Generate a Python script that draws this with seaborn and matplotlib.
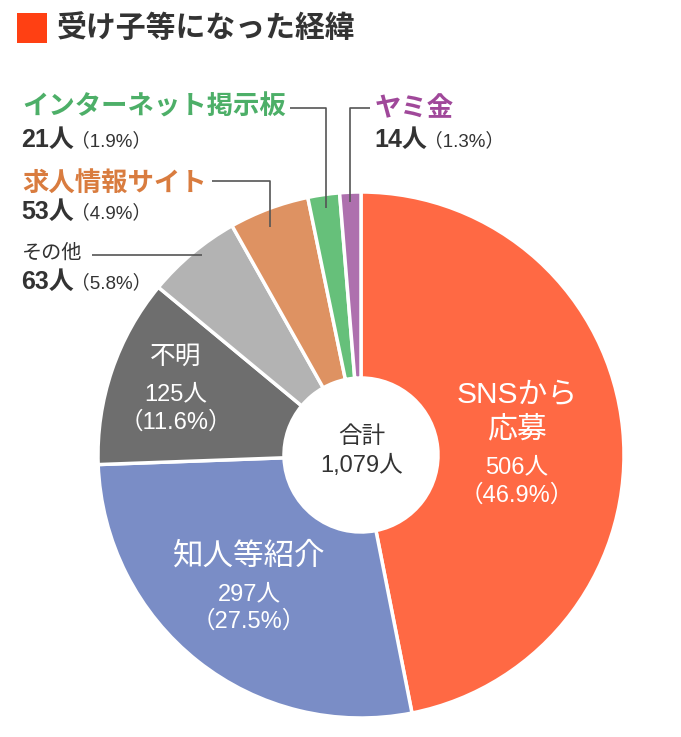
import matplotlib.pyplot as plt
import seaborn as sns
from matplotlib.patches import Rectangle

sns.set_theme(style="white")
plt.rcParams['font.family'] = ['Noto Sans CJK JP', 'DejaVu Sans']
NUM = ['Liberation Sans', 'Noto Sans CJK JP']

# data
categories = ['SNSから応募', '知人等紹介', '不明', 'その他', '求人情報サイト', 'インターネット掲示板', 'ヤミ金']
counts = [506, 297, 125, 63, 53, 21, 14]
percents = [46.9, 27.5, 11.6, 5.8, 4.9, 1.9, 1.3]
total = 1079
colors = ['#FF6944', '#7A8DC6', '#6E6E6E', '#B3B3B3', '#DE9262', '#66C07A', '#AE70AE']
label_colors = {'求人情報サイト': '#D97C3F', 'インターネット掲示板': '#4DAF68', 'ヤミ金': '#A0489A'}

W, H = 681, 737
fig = plt.figure(figsize=(W / 100, H / 100), dpi=100)
ax = fig.add_axes([0, 0, 1, 1])

def py(y):
    return H - y

cx, cy, R, r_in = 361, 455, 263, 77
ax.pie(counts, colors=colors, startangle=90, counterclock=False,
       center=(cx, py(cy)), radius=R,
       wedgeprops=dict(edgecolor='white', linewidth=2.5, width=R - r_in))
ax.set_xlim(0, W)
ax.set_ylim(0, H)
ax.set_aspect('equal')
ax.axis('off')

# title
ax.add_patch(Rectangle((17, py(43)), 30, 30, color='#FF4013', lw=0))
ax.text(57, py(28), '受け子等になった経緯', fontsize=21.5, fontweight='bold',
        color='#333333', va='center', ha='left')

renderer = fig.canvas.get_renderer()

def count_line(x, y, i, size=18, psize=13.5):
    t = ax.text(x, py(y), f'{counts[i]}人', fontsize=size, color='#333333',
                fontweight='bold', family=NUM, va='center', ha='left')
    bb = t.get_window_extent(renderer=renderer)
    x2 = ax.transData.inverted().transform((bb.x1, 0))[0]
    ax.text(x2 - 3, py(y + 1), f'（{percents[i]}%）', fontsize=psize, color='#333333',
            family=NUM, va='center', ha='left')

def leader(pts):
    xs = [p[0] for p in pts]
    ys = [py(p[1]) for p in pts]
    ax.plot(xs, ys, color='#555555', lw=1.2, solid_capstyle='butt')

# outer labels
i = categories.index('インターネット掲示板')
ax.text(22, py(107), categories[i], fontsize=19, fontweight='bold',
        color=label_colors[categories[i]], va='center', ha='left')
count_line(21, 140, i)
leader([(290, 108), (326, 108), (326, 208)])

i = categories.index('ヤミ金')
ax.text(375, py(109), categories[i], fontsize=19, fontweight='bold',
        color=label_colors[categories[i]], va='center', ha='left')
count_line(374, 140, i)
leader([(370, 108), (350, 108), (350, 202)])

i = categories.index('求人情報サイト')
ax.text(22, py(183), categories[i], fontsize=19, fontweight='bold',
        color=label_colors[categories[i]], va='center', ha='left')
count_line(21, 212, i)
leader([(212, 181), (270, 181), (270, 227)])

i = categories.index('その他')
ax.text(22, py(253), categories[i], fontsize=14.5, color='#333333',
        va='center', ha='left')
count_line(21, 282, i)
leader([(92, 255), (202, 255)])

# inner labels
ax.text(517, py(395), 'SNSから', fontsize=21.5, color='white', family=NUM, va='center', ha='center')
ax.text(517, py(429), '応募', fontsize=21.5, color='white', va='center', ha='center')
ax.text(517, py(467), f'{counts[0]}人', fontsize=17, color='white', family=NUM, va='center', ha='center')
ax.text(517, py(495), f'（{percents[0]}%）', fontsize=17, color='white', family=NUM, va='center', ha='center')

ax.text(249, py(556), categories[1], fontsize=22, color='white', va='center', ha='center')
ax.text(249, py(594), f'{counts[1]}人', fontsize=17, color='white', family=NUM, va='center', ha='center')
ax.text(249, py(622), f'（{percents[1]}%）', fontsize=17, color='white', family=NUM, va='center', ha='center')

ax.text(176, py(357), categories[2], fontsize=18.5, color='white', va='center', ha='center')
ax.text(176, py(394), f'{counts[2]}人', fontsize=17, color='white', family=NUM, va='center', ha='center')
ax.text(176, py(422), f'（{percents[2]}%）', fontsize=17, color='white', family=NUM, va='center', ha='center')

# center
ax.text(362, py(436), '合計', fontsize=17, color='#333333', va='center', ha='center')
ax.text(362, py(466), f'{total:,}人', fontsize=17, color='#333333', family=NUM, va='center', ha='center')

fig.savefig('out.png', dpi=100, facecolor='white')
